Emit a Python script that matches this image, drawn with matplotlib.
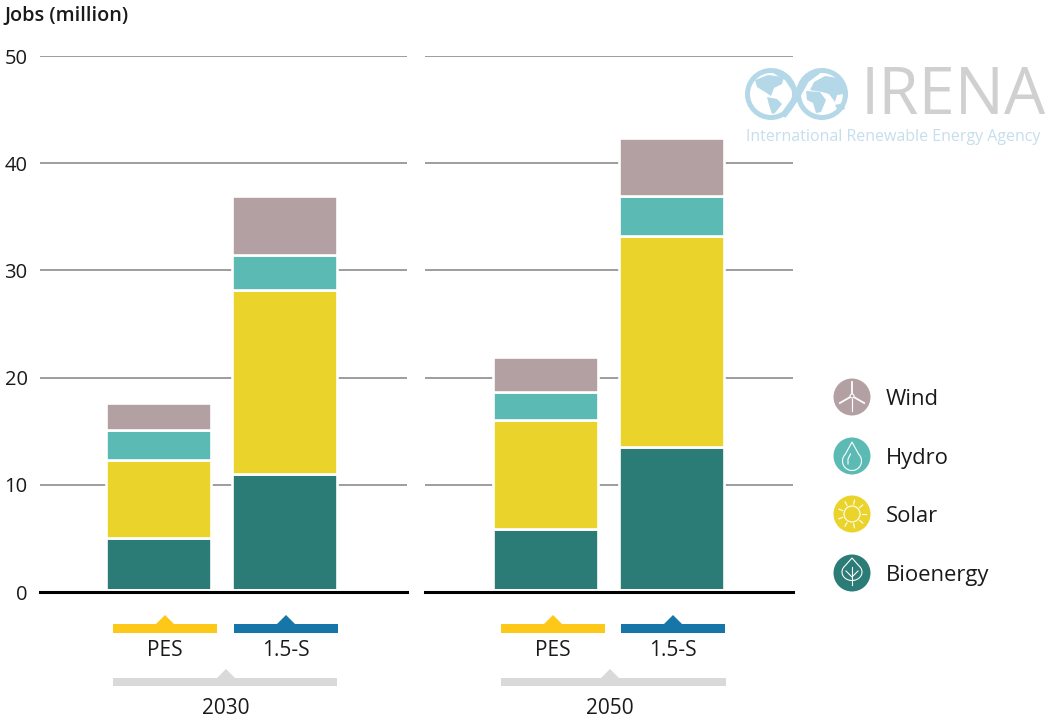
import numpy as np
import matplotlib
matplotlib.use("Agg")
import matplotlib.pyplot as plt
from matplotlib.patches import Circle, Polygon, Ellipse

plt.rcParams['font.family'] = ['Open Sans', 'DejaVu Sans']

# values (million jobs)
scenarios = ["PES", "1.5-S"]
years = ["2030", "2050"]
techs = ["Bioenergy", "Solar", "Hydro", "Wind"]
colors = ["#2b7b76", "#ead42b", "#5cbab5", "#b3a0a3"]

bio_2030 = [5.0, 11.0]
solar_2030 = [7.3, 17.2]
hydro_2030 = [2.8, 3.2]
wind_2030 = [2.55, 5.5]

bio_2050 = [5.9, 13.55]
solar_2050 = [10.1, 19.7]
hydro_2050 = [2.65, 3.65]
wind_2050 = [3.3, 5.45]

yticks = [0, 10, 20, 30, 40, 50]

W, H = 1045, 720
fig = plt.figure(figsize=(W / 100, H / 100), dpi=100)


def px_axes(x0, x1, y_top, y_bot):
    return fig.add_axes([x0 / W, 1 - y_bot / H, (x1 - x0) / W, (y_bot - y_top) / H])


ax1 = px_axes(40, 407, 56, 592)
ax2 = px_axes(425, 793, 56, 592)

# overlay in pixel coords for logo, legend icons and brackets
ov = fig.add_axes([0, 0, 1, 1], zorder=5)
ov.set_xlim(0, W)
ov.set_ylim(H, 0)
ov.axis("off")
ov.patch.set_alpha(0)

data = [
    (ax1, [bio_2030, solar_2030, hydro_2030, wind_2030], (-118.7 / 126, 248.3 / 126)),
    (ax2, [bio_2050, solar_2050, hydro_2050, wind_2050], (-120.7 / 126, 247.3 / 126)),
]

for ax, series, xlim in data:
    x = np.arange(len(scenarios))
    bottom = np.zeros(len(scenarios))
    for vals, c in zip(series, colors):
        ax.bar(x, vals, 0.83, bottom=bottom, color=c, edgecolor="white", linewidth=1.9, zorder=3)
        bottom += np.array(vals)
    ax.set_xlim(*xlim)
    ax.set_ylim(0, 50)
    ax.set_yticks(yticks)
    ax.set_xticks([])
    ax.grid(axis="y", color="#8c8c8c", linewidth=1.2, zorder=1)
    ax.axhspan(0, 0.25, color="white", zorder=4, lw=0)
    ax.axhline(0, color="black", linewidth=2.2, zorder=5, clip_on=False)
    for s in ax.spines.values():
        s.set_visible(False)
    ax.tick_params(axis="y", length=0, labelsize=14.5, labelcolor="#1a1a1a", pad=9)
    ax.patch.set_alpha(0)

ax2.tick_params(axis="y", labelleft=False)

fig.text(4 / W, 1 - 16 / H, "Jobs (million)", fontsize=14.3, fontweight="semibold", color="#1a1a1a",
         ha="left", va="center")


def bracket(x0, x1, xc, y, h, tip, color):
    ov.add_patch(Polygon([(x0, y), (xc - tip, y), (xc, y - tip), (xc + tip, y), (x1, y),
                          (x1, y + h), (x0, y + h)], closed=True, color=color, lw=0))


# scenario and year brackets
for x0, label, col in [(113, scenarios[0], "#fdc818"), (234, scenarios[1], "#1776a8"),
                       (501, scenarios[0], "#fdc818"), (621, scenarios[1], "#1776a8")]:
    bracket(x0, x0 + 104, x0 + 52, 624, 9, 9, col)
    ov.text(x0 + 52, 650, label, ha="center", va="center", fontsize=15, color="#1a1a1a")

for x0, x1, xc, label in [(113, 337, 226, years[0]), (501, 726, 610, years[1])]:
    bracket(x0, x1, xc, 678, 8, 9, "#d9d9d9")
    ov.text(xc, 708, label, ha="center", va="center", fontsize=15, color="#1a1a1a")

# legend
leg_y = [397, 456, 514, 573]
leg_names = ["Wind", "Hydro", "Solar", "Bioenergy"]
leg_cols = [colors[3], colors[2], colors[1], colors[0]]
for y, name, c in zip(leg_y, leg_names, leg_cols):
    ov.add_patch(Circle((852, y), 18.5, color=c, lw=0))
    ov.text(886, y, name, ha="left", va="center_baseline", fontsize=15.8, color="#1a1a1a")

lw = 0.8
t = np.linspace(-0.25 * np.pi, 1.25 * np.pi, 40)
# wind icon
y = leg_y[0]
ov.plot([852, 852], [y + 2, y + 14], color="white", lw=lw)
for a in [90, 210, 330]:
    r = np.radians(a)
    ov.plot([852, 852 + 14 * np.cos(r)], [y - 1, y - 1 - 14 * np.sin(r)], color="white", lw=lw + 0.5)
ov.add_patch(Circle((852, y - 1), 2, fc=colors[3], ec="white", lw=lw, zorder=3))
# hydro icon
y = leg_y[1]
drop = [(852 + 9.5 * np.cos(a), y + 5 + 9.5 * np.sin(a)) for a in t] + [(852, y - 14)]
ov.add_patch(Polygon(drop, closed=True, fc="none", ec="white", lw=lw))
ov.plot([848, 848, 850.5], [y + 8, y + 3, y - 2], color="white", lw=lw)
# solar icon
y = leg_y[2]
ov.add_patch(Circle((852, y), 8, fc="none", ec="white", lw=lw))
for a in np.arange(0, 360, 40):
    r = np.radians(a)
    ov.plot([852 + 10 * np.cos(r), 852 + 14 * np.cos(r)], [y + 10 * np.sin(r), y + 14 * np.sin(r)],
            color="white", lw=lw)
# bioenergy icon
y = leg_y[3]
leaf = [(852 + 10 * np.cos(a), y - 1 + 8.5 * np.sin(a)) for a in t] + [(852, y - 15)]
ov.add_patch(Polygon(leaf, closed=True, fc="none", ec="white", lw=lw))
ov.plot([852, 852], [y - 6, y + 12], color="white", lw=lw)
ov.plot([846, 852, 858], [y - 2, y + 4, y - 2], color="white", lw=lw)

# logo
blue = "#b5d8e8"
ov.add_patch(Ellipse((771, 94), 47, 47, fc="none", ec=blue, lw=3.6))
ov.add_patch(Ellipse((822, 94), 47, 47, fc="none", ec=blue, lw=3.6))
ov.plot([818, 806, 796, 783], [71, 80, 98, 116], color=blue, lw=4.5, solid_capstyle="butt")
ov.plot([775, 787, 795], [71, 78, 90], color=blue, lw=4, solid_capstyle="butt")
# rough continents
americas = [(755, 80), (768, 75), (784, 77), (782, 84), (774, 88), (771, 96), (765, 92), (757, 87)]
south_am = [(767, 97), (777, 99), (782, 104), (775, 113), (772, 114), (769, 105)]
eurasia = [(814, 82), (825, 76), (838, 78), (846, 88), (844, 94), (837, 95), (835, 102), (829, 94), (822, 92), (810, 90)]
africa = [(806, 91), (820, 92), (826, 100), (821, 112), (816, 113), (813, 103), (807, 100)]
oceania = [(835, 105), (843, 103), (845, 109), (838, 111)]
for shape in [americas, south_am, eurasia, africa, oceania]:
    ov.add_patch(Polygon(shape, closed=True, color=blue, lw=0))
ov.text(861, 97, "IRENA", ha="left", va="center", fontsize=47, color="#d0d0d0")
ov.text(746, 137, "International Renewable Energy Agency", ha="left", va="center", fontsize=11.55,
        color="#c5dfec")

plt.savefig("out.png", dpi=100)
